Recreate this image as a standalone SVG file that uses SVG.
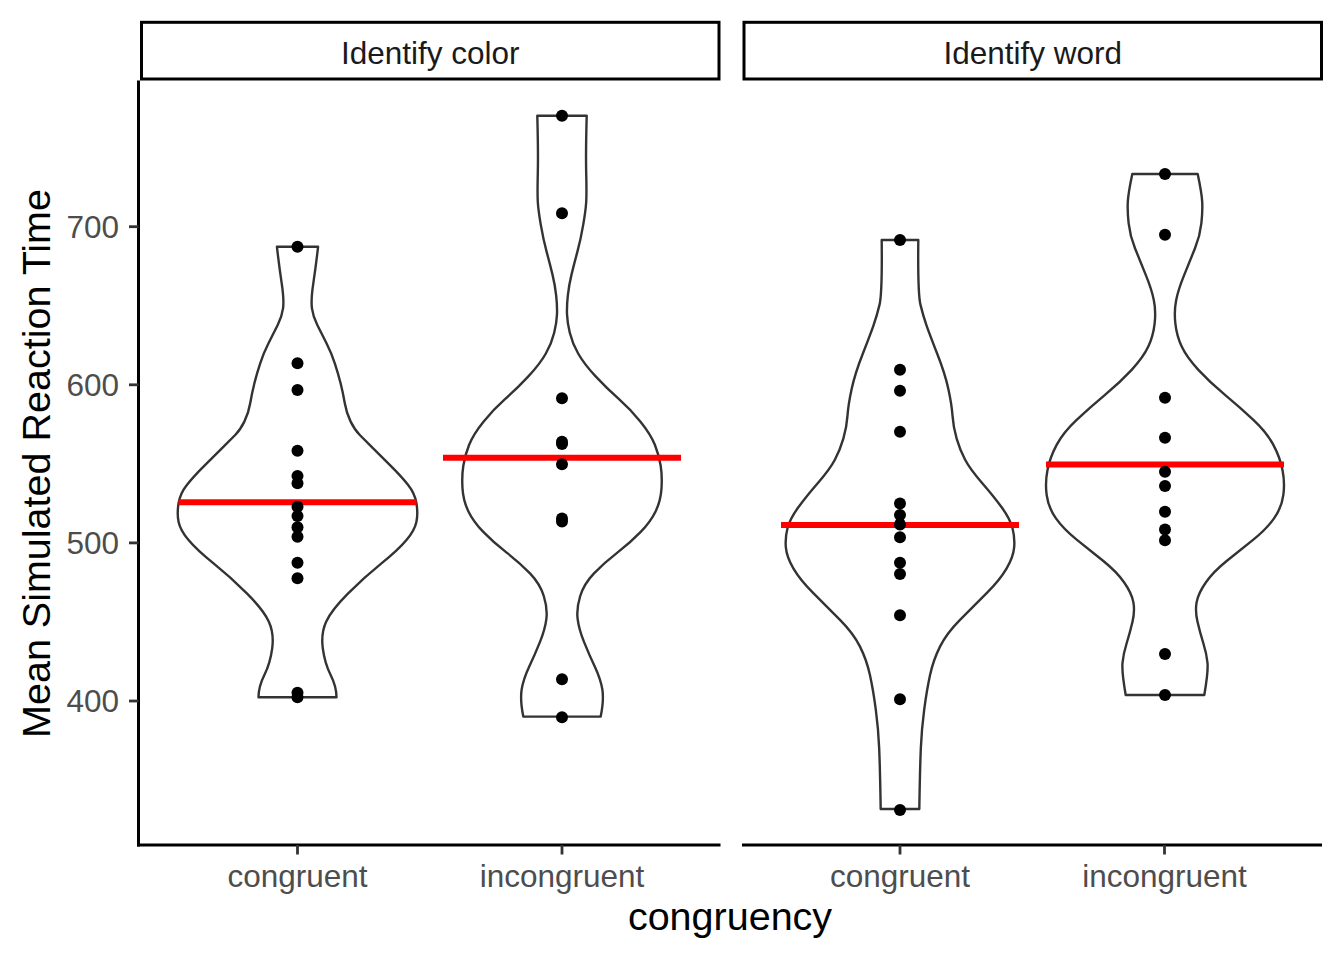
<svg xmlns="http://www.w3.org/2000/svg" xmlns:xlink="http://www.w3.org/1999/xlink" width="1344" height="960" viewBox="0 0 1344 960">
<style>
.txt{font-family:"Liberation Sans",Arial,Helvetica,sans-serif}
.tick-lab{font-size:31.5px;fill:#4D4D4D}
.strip-lab{font-size:31.5px;fill:#1A1A1A}
.title{font-size:39.5px;fill:#000}
.strip{fill:#fff;stroke:#000;stroke-width:3}
.axis{stroke:#000;stroke-width:3;fill:none;stroke-linecap:butt}
.tick{stroke:#333;stroke-width:2.8;fill:none}
.violin{fill:#fff;stroke:#333;stroke-width:2.4;stroke-linejoin:round}
.mean{stroke:#FF0000;stroke-width:6;fill:none}
.pt{fill:#000}
</style>
<defs>
<path id="hA" d="M297.5,246.7 L276.9,246.7 Q279.2,266.7 281.7,283.35 Q284.2,300 283.05,308.35 Q281.9,316.7 277.7,325 Q273.5,333.3 268.5,343.3 Q263.5,353.3 260.2,363.3 Q256.9,373.3 254.4,383.3 Q251.9,393.3 250.2,403.3 Q248.5,413.3 244.35,421.65 Q240.2,430 235.2,435 Q230.2,440 221.85,448.35 Q213.5,456.7 203.5,466.7 Q193.5,476.7 186.85,485 Q180.2,493.3 178.55,503.3 Q176.9,513.3 178.55,521.65 Q180.2,530 188.55,540 Q196.9,550 213.55,563.35 Q230.2,576.7 246.85,593.35 Q263.5,610 268.85,621.65 Q274.2,633.3 272.2,648.3 Q270.2,663.3 264.35,675 Q258.5,686.7 258.5,697.3 L297.5,697.3"/>
<path id="hB" d="M562,115.7 L537.3,115.7 Q538.3,152.2 537.8,172.95 Q537.3,193.7 537.8,202 Q538.3,210.3 540.8,224.85 Q543.3,239.4 546.65,251.85 Q550,264.3 552.5,274.65 Q555,285 556.15,295.4 Q557.3,305.8 557,314.1 Q556.7,322.4 554.2,332.75 Q551.7,343.1 545.85,353.5 Q540,363.9 528.35,376.35 Q516.7,388.8 505,399.15 Q493.3,409.5 483.3,421.950 Q473.3,434.4 469.15,444.75 Q465,455.1 463.35,465.5 Q461.7,475.9 462.5,488.35 Q463.3,500.8 468.3,511.15 Q473.3,521.5 483.3,531.9 Q493.3,542.3 506.65,552.65 Q520,563 530,573.4 Q540,583.8 543.85,596.25 Q547.7,608.7 546.35,619.05 Q545,629.4 540,641.85 Q535,654.3 529.15,666.75 Q523.3,679.2 521.65,689.55 Q520,699.9 523.3,716.6 L562,716.6"/>
<path id="hC" d="M900,240 L881.7,240 Q882.3,293.4 879.5,304.9 Q876.7,316.4 873.35,325.9 Q870,335.4 862.5,354.5 Q855,373.6 851.65,388.9 Q848.3,404.2 847.5,415.65 Q846.7,427.1 843.35,438.55 Q840,450 835,459.55 Q830,469.1 818.35,482.45 Q806.7,495.8 798.35,507.25 Q790,518.7 787.5,528.25 Q785,537.8 785.85,547.35 Q786.7,556.9 793.35,568.35 Q800,579.8 813.35,593.15 Q826.7,606.5 840,619.9 Q853.3,633.3 860,646.65 Q866.7,660 870,675.3 Q873.3,690.6 875.8,709.65 Q878.3,728.7 879.15,747.85 Q880,767 880.7,809 L900,809"/>
<path id="hD" d="M1165,174 L1132.3,174 Q1128.3,192.9 1127.8,201.85 Q1127.3,210.8 1128.65,223.3 Q1130,235.8 1135,248.3 Q1140,260.8 1145.85,275.1 Q1151.7,289.4 1153.85,300.15 Q1156,310.9 1154.65,323.4 Q1153.3,335.9 1148.3,346.6 Q1143.3,357.3 1131.65,369.85 Q1120,382.4 1105,394.9 Q1090,407.4 1076.65,419.9 Q1063.3,432.4 1056.65,444.9 Q1050,457.4 1047.5,469.9 Q1045,482.4 1046.65,494.9 Q1048.3,507.4 1055.8,518.15 Q1063.3,528.9 1076.65,539.6 Q1090,550.3 1103.35,561.05 Q1116.7,571.8 1124.2,582.5 Q1131.7,593.2 1133.35,602.15 Q1135,611.1 1132.5,621.8 Q1130,632.5 1126.65,643.25 Q1123.3,654 1122.5,662.95 Q1121.7,671.9 1125.7,695 L1165,695"/>
</defs>
<rect x="0" y="0" width="1344" height="960" fill="#fff"/>

<g id="strip-color">
<rect class="strip" x="141.5" y="22.3" width="577.5" height="56.7"/>
<text class="txt strip-lab" x="430.2" y="63.5" text-anchor="middle">Identify color</text>
</g>
<g id="strip-word">
<rect class="strip" x="744" y="22.3" width="577.5" height="56.7"/>
<text class="txt strip-lab" x="1032.7" y="63.5" text-anchor="middle">Identify word</text>
</g>

<g id="violin-color-congruent">
<use xlink:href="#hA" class="violin"/>
<use xlink:href="#hA" class="violin" transform="matrix(-1 0 0 1 595 0)"/>
</g>
<g id="violin-color-incongruent">
<use xlink:href="#hB" class="violin"/>
<use xlink:href="#hB" class="violin" transform="matrix(-1 0 0 1 1124 0)"/>
</g>
<g id="violin-word-congruent">
<use xlink:href="#hC" class="violin"/>
<use xlink:href="#hC" class="violin" transform="matrix(-1 0 0 1 1800 0)"/>
</g>
<g id="violin-word-incongruent">
<use xlink:href="#hD" class="violin"/>
<use xlink:href="#hD" class="violin" transform="matrix(-1 0 0 1 2330 0)"/>
</g>

<g id="means">
<line class="mean" x1="178.5" y1="502.3" x2="416.5" y2="502.3"/>
<line class="mean" x1="443" y1="457.8" x2="681" y2="457.8"/>
<line class="mean" x1="781" y1="525" x2="1019" y2="525"/>
<line class="mean" x1="1046" y1="464.6" x2="1284" y2="464.6"/>
</g>

<g id="points-color-congruent" class="pt">
<circle cx="297.5" cy="246.7" r="6"/><circle cx="297.5" cy="363.3" r="6"/><circle cx="297.5" cy="390" r="6"/>
<circle cx="297.5" cy="450.7" r="6"/><circle cx="297.5" cy="476" r="6"/><circle cx="297.5" cy="483.3" r="6"/>
<circle cx="297.5" cy="506.7" r="6"/><circle cx="297.5" cy="516" r="6"/><circle cx="297.5" cy="527.3" r="6"/>
<circle cx="297.5" cy="536.7" r="6"/><circle cx="297.5" cy="562.7" r="6"/><circle cx="297.5" cy="578.3" r="6"/>
<circle cx="297.5" cy="692.7" r="6"/><circle cx="297.5" cy="697.3" r="6"/>
</g>
<g id="points-color-incongruent" class="pt">
<circle cx="562" cy="115.7" r="6"/><circle cx="562" cy="213.2" r="6"/><circle cx="562" cy="398.3" r="6"/>
<circle cx="562" cy="441.7" r="6"/><circle cx="562" cy="444" r="6"/><circle cx="562" cy="464.3" r="6"/>
<circle cx="562" cy="518.5" r="6"/><circle cx="562" cy="521.5" r="6"/><circle cx="562" cy="679.2" r="6"/>
<circle cx="562" cy="717.2" r="6"/>
</g>
<g id="points-word-congruent" class="pt">
<circle cx="900" cy="240" r="6"/><circle cx="900" cy="369.8" r="6"/><circle cx="900" cy="390.8" r="6"/>
<circle cx="900" cy="431.7" r="6"/><circle cx="900" cy="503.4" r="6"/><circle cx="900" cy="515" r="6"/>
<circle cx="900" cy="524.5" r="6"/><circle cx="900" cy="537.2" r="6"/><circle cx="900" cy="562.7" r="6"/>
<circle cx="900" cy="574" r="6"/><circle cx="900" cy="615.3" r="6"/><circle cx="900" cy="699.3" r="6"/>
<circle cx="900" cy="810" r="6"/>
</g>
<g id="points-word-incongruent" class="pt">
<circle cx="1165" cy="174" r="6"/><circle cx="1165" cy="234.8" r="6"/><circle cx="1165" cy="397.7" r="6"/>
<circle cx="1165" cy="437.7" r="6"/><circle cx="1165" cy="471.7" r="6"/><circle cx="1165" cy="486" r="6"/>
<circle cx="1165" cy="511.7" r="6"/><circle cx="1165" cy="529.6" r="6"/><circle cx="1165" cy="540.3" r="6"/>
<circle cx="1165" cy="654" r="6"/><circle cx="1165" cy="695" r="6"/>
</g>

<g id="y-axis">
<line class="axis" x1="138.5" y1="80.5" x2="138.5" y2="846.5"/>
<line class="tick" x1="129" y1="226.7" x2="138.5" y2="226.7"/>
<line class="tick" x1="129" y1="384.8" x2="138.5" y2="384.8"/>
<line class="tick" x1="129" y1="542.9" x2="138.5" y2="542.9"/>
<line class="tick" x1="129" y1="701" x2="138.5" y2="701"/>
<text class="txt tick-lab" x="119" y="237.8" text-anchor="end">700</text>
<text class="txt tick-lab" x="119" y="395.9" text-anchor="end">600</text>
<text class="txt tick-lab" x="119" y="554" text-anchor="end">500</text>
<text class="txt tick-lab" x="119" y="712.1" text-anchor="end">400</text>
</g>
<g id="x-axis-color">
<line class="axis" x1="137" y1="845" x2="720.5" y2="845"/>
<line class="tick" x1="297.5" y1="845" x2="297.5" y2="854.5"/>
<line class="tick" x1="562" y1="845" x2="562" y2="854.5"/>
<text class="txt tick-lab" x="297.5" y="887" text-anchor="middle">congruent</text>
<text class="txt tick-lab" x="562" y="887" text-anchor="middle">incongruent</text>
</g>
<g id="x-axis-word">
<line class="axis" x1="742" y1="845" x2="1322" y2="845"/>
<line class="tick" x1="900" y1="845" x2="900" y2="854.5"/>
<line class="tick" x1="1164.5" y1="845" x2="1164.5" y2="854.5"/>
<text class="txt tick-lab" x="900" y="887" text-anchor="middle">congruent</text>
<text class="txt tick-lab" x="1164.5" y="887" text-anchor="middle">incongruent</text>
</g>
<g id="axis-titles">
<text class="txt title" x="730" y="930" text-anchor="middle">congruency</text>
<text class="txt title" transform="translate(50,463.5) rotate(-90)" text-anchor="middle">Mean Simulated Reaction Time</text>
</g>
</svg>
